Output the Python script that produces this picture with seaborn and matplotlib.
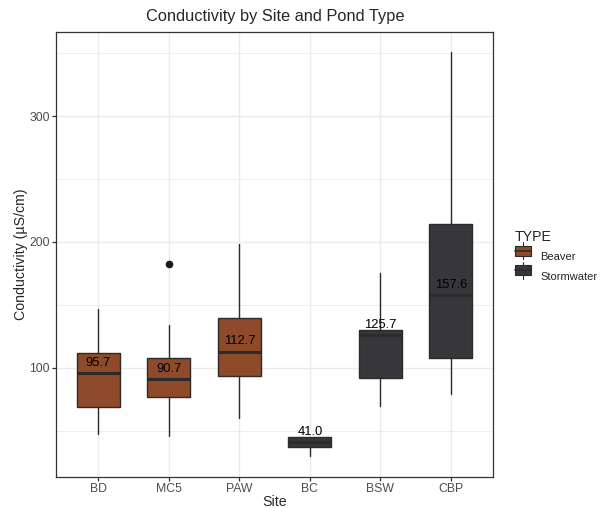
import matplotlib
matplotlib.use("Agg")
import matplotlib.pyplot as plt
import seaborn as sns
from matplotlib.patches import Rectangle
from matplotlib.lines import Line2D
from matplotlib.legend_handler import HandlerBase

# ----------------------------
# Data (box statistics)
# ----------------------------
sites = ["BD", "MC5", "PAW", "BC", "BSW", "CBP"]
pond_type = ["Beaver", "Beaver", "Beaver", "Stormwater", "Stormwater", "Stormwater"]
whisker_low = [47.6, 45.5, 60.3, 29.8, 69.3, 78.9]
q1 = [68.8, 76.7, 93.4, 37.2, 92.0, 107.5]
median = [95.7, 90.7, 112.7, 41.0, 125.7, 157.6]
q3 = [111.4, 107.5, 139.8, 45.2, 130.0, 214.5]
whisker_high = [146.4, 134.0, 198.6, 45.2, 175.3, 350.7]
outliers = [[], [182.7], [], [], [], []]

COLORS = {"Beaver": "#8E4A2A", "Stormwater": "#37373B"}
EDGE = "#2B2B2B"

# ----------------------------
# Style (ggplot theme_bw look)
# ----------------------------
sns.set_theme(style="whitegrid", rc={
    "grid.color": "#EBEBEB",
    "axes.edgecolor": "#333333",
    "axes.linewidth": 0.9,
})
plt.rcParams["font.family"] = ["Liberation Sans", "DejaVu Sans"]

fig = plt.figure(figsize=(6.03, 5.08), dpi=100)
ax = fig.add_axes([56 / 603, 1 - 476.7 / 508, 437.3 / 603, 445 / 508])

stats = []
for i, s in enumerate(sites):
    stats.append({
        "label": s, "whislo": whisker_low[i], "q1": q1[i], "med": median[i],
        "q3": q3[i], "whishi": whisker_high[i], "fliers": outliers[i],
    })

bp = ax.bxp(
    stats, positions=range(len(sites)), widths=0.61, patch_artist=True,
    showcaps=False,
    boxprops=dict(edgecolor=EDGE, linewidth=1.0),
    medianprops=dict(color=EDGE, linewidth=2.2),
    whiskerprops=dict(color=EDGE, linewidth=1.0),
    flierprops=dict(marker="o", markerfacecolor="#1A1A1A", markeredgecolor="#1A1A1A",
                    markersize=4.5),
    zorder=3,
)
for patch, t in zip(bp["boxes"], pond_type):
    patch.set_facecolor(COLORS[t])

# Median labels
for i, m in enumerate(median):
    ax.annotate(f"{m:.1f}", (i, m), xytext=(0, 7.5), textcoords="offset points",
                ha="center", va="center", fontsize=9.4, color="black", zorder=5)

ax.set_xlim(-0.6, 5.6)
ax.set_ylim(13.4, 367.1)
ax.set_yticks([100, 200, 300])
ax.set_yticks([50, 150, 250, 350], minor=True)
ax.grid(True, which="major", color="#EBEBEB", linewidth=1.0)
ax.grid(True, which="minor", axis="y", color="#EBEBEB", linewidth=0.6)
ax.set_axisbelow(True)
ax.tick_params(axis="both", which="major", length=3, width=0.9, color="#333333",
               labelsize=8.8, labelcolor="#4D4D4D", pad=1.5, bottom=True, left=True)
ax.tick_params(axis="y", which="minor", length=0)

ax.set_xlabel("Site", fontsize=10.2, va="center")
ax.xaxis.set_label_coords(0.5, (476.7 - 502.5) / 445)
ax.set_ylabel("Conductivity (µS/cm)", fontsize=10.2)
ax.yaxis.set_label_coords((28 - 56) / 437.3, 0.5)
fig.suptitle("Conductivity by Site and Pond Type", x=275 / 603, y=1 - 16 / 508,
             va="center", fontsize=11.8)

for sp in ax.spines.values():
    sp.set_color("#333333")
    sp.set_linewidth(0.9)


# Legend with boxplot-style keys
class BoxKey(HandlerBase):
    def create_artists(self, legend, orig, xd, yd, w, h, fontsize, trans):
        fc = orig.get_facecolor()
        bx = xd
        bw = w
        rect = Rectangle((bx, yd + h * 0.1), bw, h * 0.8, facecolor=fc,
                         edgecolor=EDGE, linewidth=0.8, transform=trans)
        mid = Line2D([bx, bx + bw], [yd + h / 2] * 2, color=EDGE, lw=1.2, transform=trans)
        top = Line2D([xd + w / 2] * 2, [yd + h * 0.9, yd + h * 1.15], color=EDGE, lw=0.8,
                     transform=trans)
        bot = Line2D([xd + w / 2] * 2, [yd - h * 0.15, yd + h * 0.1], color=EDGE, lw=0.8,
                     transform=trans)
        return [rect, mid, top, bot]


handles = [Rectangle((0, 0), 1, 1, facecolor=COLORS[t]) for t in ["Beaver", "Stormwater"]]
leg = fig.legend(handles, ["Beaver", "Stormwater"], title="TYPE",
                 handler_map={Rectangle: BoxKey()},
                 loc="upper left", bbox_to_anchor=(505 / 603, 1 - 220 / 508),
                 frameon=False, fontsize=8.0, title_fontsize=10.2,
                 handlelength=1.45, handleheight=1.45, handletextpad=0.85,
                 labelspacing=0.55, alignment="left")

fig.savefig("out.png", dpi=100)
